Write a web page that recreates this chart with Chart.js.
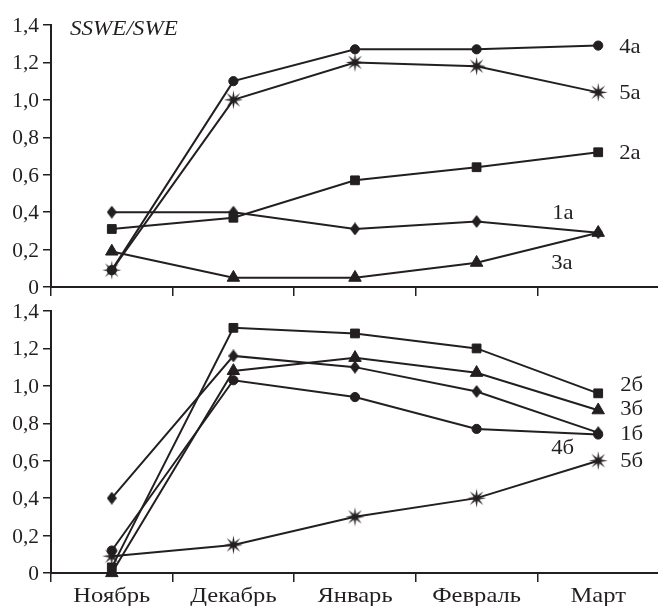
<!DOCTYPE html>
<html lang="ru">
<head>
<meta charset="UTF-8">
<title>SSWE/SWE</title>
<script src="https://cdn.jsdelivr.net/npm/chart.js"></script>
<style>
    body { margin: 0; background: #fff; overflow: hidden; width: 658px; height: 606px; position: relative; }
    canvas { position: absolute; left: 0; }
</style>
</head>
<body>
<canvas id="topChart" width="668" height="300" style="top:0"></canvas>
<canvas id="bottomChart" width="668" height="316" style="top:290px"></canvas>
<script>
// --- data ---
const months = ['Ноябрь', 'Декабрь', 'Январь', 'Февраль', 'Март'];
const yTickLabels = ['0', '0,2', '0,4', '0,6', '0,8', '1,0', '1,2', '1,4'];

// upper panel (a)
const s1a = [0.40, 0.40, 0.31, 0.35, 0.29];
const s2a = [0.31, 0.37, 0.57, 0.64, 0.72];
const s3a = [0.19, 0.05, 0.05, 0.13, 0.29];
const s4a = [0.09, 1.10, 1.27, 1.27, 1.29];
const s5a = [0.09, 1.00, 1.20, 1.18, 1.04];

// lower panel (б)
const s1b = [0.40, 1.16, 1.10, 0.97, 0.75];
const s2b = [0.03, 1.31, 1.28, 1.20, 0.96];
const s3b = [0.00, 1.08, 1.15, 1.07, 0.87];
const s4b = [0.12, 1.03, 0.94, 0.77, 0.74];
const s5b = [0.09, 0.15, 0.30, 0.40, 0.60];

const ink = '#231f20';
const serif = "'Liberation Serif', 'DejaVu Serif', serif";

Chart.defaults.font.family = serif;
Chart.defaults.font.size = 21;
Chart.defaults.color = ink;

// custom marker images
function makeStar(outer, inner) {
    const c = document.createElement('canvas');
    const s = Math.ceil(outer * 2) + 2;
    c.width = c.height = s;
    const g = c.getContext('2d');
    g.translate(s / 2, s / 2);
    g.beginPath();
    for (let i = 0; i < 16; i++) {
        const r = i % 2 ? inner : outer;
        const a = i * Math.PI / 8 - Math.PI / 2;
        g.lineTo(r * Math.cos(a), r * Math.sin(a));
    }
    g.closePath();
    g.fillStyle = ink;
    g.fill();
    return c;
}

function makeDiamond(w, h) {
    const c = document.createElement('canvas');
    c.width = w; c.height = h;
    const g = c.getContext('2d');
    g.beginPath();
    g.moveTo(w / 2, 0); g.lineTo(w, h / 2); g.lineTo(w / 2, h); g.lineTo(0, h / 2);
    g.closePath();
    g.fillStyle = ink;
    g.fill();
    return c;
}

const starImg = makeStar(9.5, 3);
const diamondImg = makeDiamond(10, 13);

const markers = {
    1: { pointStyle: diamondImg, pointRadius: 6 },
    2: { pointStyle: 'rect', pointRadius: 6.2 },
    3: { pointStyle: 'triangle', pointRadius: 7.2 },
    4: { pointStyle: 'circle', pointRadius: 4.6 },
    5: { pointStyle: starImg, pointRadius: 8 }
};

const makeSet = (label, values, kind) => Object.assign({
    label: label,
    data: values,
    borderColor: ink,
    borderWidth: 2,
    backgroundColor: ink,
    pointBackgroundColor: ink,
    pointBorderColor: ink,
    pointBorderWidth: 1,
    tension: 0,
    clip: false
}, markers[kind]);

// text labels next to the curves: [text, category index, y value, x shift]
const notesTop = [
    ['4а', 4, 1.29, 21], ['5а', 4, 1.04, 21], ['2а', 4, 0.72, 21],
    ['1а', 4, 0.40, -46], ['3а', 4, 0.134, -47]
];
const notesBottom = [
    ['2б', 4, 1.01, 22], ['3б', 4, 0.883, 22], ['1б', 4, 0.75, 22],
    ['4б', 4, 0.674, -47], ['5б', 4, 0.605, 22]
];

// the source font is a little wider than Liberation Serif, so text is stretched sideways
function wideText(ctx, text, x, y, sx, align) {
    ctx.save();
    ctx.translate(x, y);
    ctx.scale(sx, 1);
    ctx.textAlign = align;
    ctx.fillText(text, 0, 0);
    ctx.restore();
}

const textPlugin = {
    id: 'texts',
    afterDraw(chart, args, opts) {
        const ctx = chart.ctx;
        const xs = chart.scales.x, ys = chart.scales.y;
        ctx.save();
        ctx.fillStyle = ink;
        ctx.textBaseline = 'alphabetic';
        ctx.font = '21px ' + serif;

        // y tick labels
        ys.ticks.forEach((t, i) => {
            wideText(ctx, yTickLabels[i], ys.right - 12, ys.getPixelForValue(t.value) + 7, 1.02, 'right');
        });

        // month labels
        if (opts.months) {
            months.forEach((m, i) => {
                wideText(ctx, m, xs.getPixelForValue(i), chart.chartArea.bottom + 29, 1.17, 'center');
            });
        }

        // curve labels
        (opts.items || []).forEach(([t, i, v, dx]) => {
            wideText(ctx, t, xs.getPixelForValue(i) + dx, ys.getPixelForValue(v) + 7, 1.08, 'left');
        });

        if (opts.title) {
            ctx.font = 'italic 21px ' + serif;
            wideText(ctx, opts.title, chart.chartArea.left + 19, chart.chartArea.top + 10, 1.1, 'left');
        }
        ctx.restore();
    }
};

const createPanel = (canvasId, datasets, notes, showMonths, title) => {
    return new Chart(document.getElementById(canvasId), {
        type: 'line',
        data: { labels: months, datasets: datasets },
        options: {
            responsive: false,
            animation: false,
            events: [],
            layout: { padding: { top: showMonths ? 21 : 25, right: 2, left: 0, bottom: 0 } },
            plugins: {
                legend: { display: false },
                tooltip: { enabled: false },
                texts: { items: notes, title: title, months: showMonths }
            },
            scales: {
                x: {
                    offset: true,
                    grid: { offset: true, drawOnChartArea: false, drawTicks: true, tickLength: 9, color: ink, lineWidth: 1.5 },
                    border: { display: true, color: ink, width: 2 },
                    ticks: { display: false, autoSkip: false, maxRotation: 0 },
                    afterFit: (s) => { s.height = showMonths ? 33 : 13; }
                },
                y: {
                    min: 0,
                    max: 1.4,
                    grid: { drawOnChartArea: false, drawTicks: true, tickLength: 8, color: ink, lineWidth: 1.5 },
                    border: { display: true, color: ink, width: 2 },
                    ticks: { display: false, stepSize: 0.2 },
                    afterFit: (s) => { s.width = 51; }
                }
            }
        },
        plugins: [textPlugin]
    });
};

createPanel('topChart', [
    makeSet('5а', s5a, 5),
    makeSet('1а', s1a, 1),
    makeSet('2а', s2a, 2),
    makeSet('3а', s3a, 3),
    makeSet('4а', s4a, 4)
], notesTop, false, 'SSWE/SWE');

createPanel('bottomChart', [
    makeSet('5б', s5b, 5),
    makeSet('1б', s1b, 1),
    makeSet('2б', s2b, 2),
    makeSet('3б', s3b, 3),
    makeSet('4б', s4b, 4)
], notesBottom, true, null);
</script>
</body>
</html>
